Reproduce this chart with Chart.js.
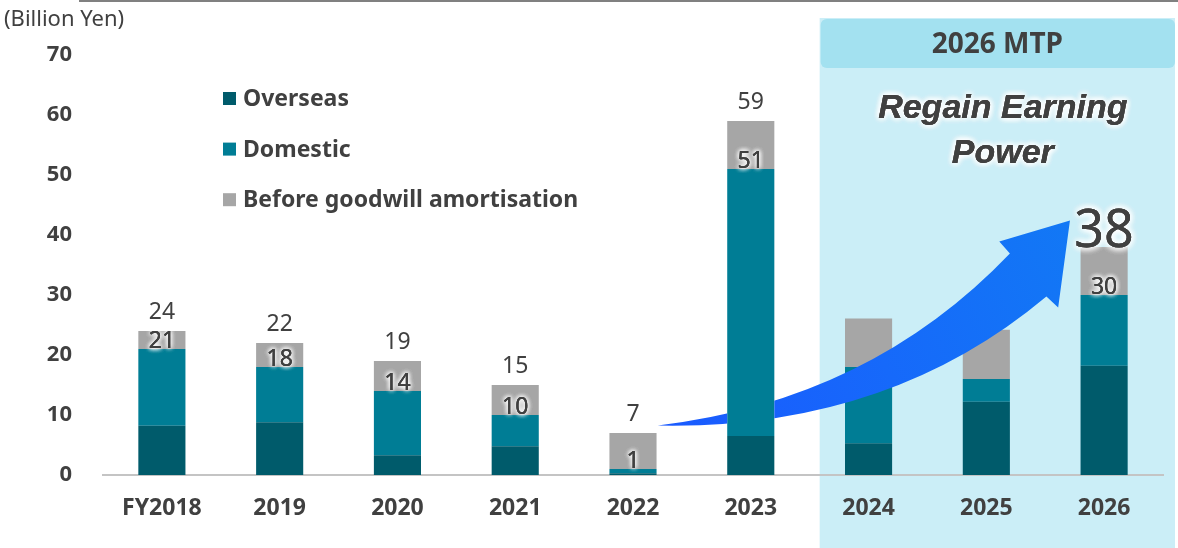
<!DOCTYPE html>
<html>
<head>
<meta charset="utf-8">
<script src="https://cdn.jsdelivr.net/npm/chart.js@4.4.0/dist/chart.umd.min.js"></script>
<style>
  html, body { margin: 0; padding: 0; background: #fff; }
  #wrap { width: 1178px; height: 548px; }
</style>
</head>
<body>
<div id="wrap"><canvas id="profit-chart" width="1178" height="548"></canvas></div>
<script>
// DATA (billion yen)
const years = ['FY2018', '2019', '2020', '2021', '2022', '2023', '2024', '2025', '2026'];
const overseas = [8.2, 8.8, 3.3, 4.8, 0.3, 6.5, 5.3, 12.2, 18.2];
const operatingProfit = [21, 18, 14, 10, 1, 51, 18, 16, 30];
const beforeGoodwill = [24, 22, 19, 15, 7, 59, 26.1, 24.2, 38];
const labelledYears = ['FY2018', '2019', '2020', '2021', '2022', '2023', '2026'];
const targetYear = '2026';
const yTicks = [0, 10, 20, 30, 40, 50, 60, 70];

const seriesNames = ['Overseas', 'Domestic', 'Before goodwill amortisation'];
const seriesColors = ['#005b6b', '#007d95', '#a6a6a6'];

const domestic = operatingProfit.map((v, i) => +(v - overseas[i]).toFixed(2));
const goodwill = beforeGoodwill.map((v, i) => +(v - operatingProfit[i]).toFixed(2));

const TEXT = '#404040';
const FONT = '"Noto Sans", sans-serif';
Chart.defaults.font.family = FONT;
Chart.defaults.color = TEXT;

// text with a soft white halo
const glowText = (ctx, text, x, y, blur) => {
  ctx.save();
  ctx.shadowColor = '#ffffff';
  ctx.shadowBlur = blur;
  for (let k = 0; k < 4; k++) ctx.fillText(text, x, y);
  ctx.restore();
  ctx.fillText(text, x, y);
};

// BACKGROUND: top rule, MTP panel, unit
const backdrop = {
  id: 'backdrop',
  beforeDraw(chart) {
    const { ctx, width, height, scales: { x } } = chart;
    ctx.save();
    ctx.fillStyle = '#808080';
    ctx.fillRect(79, 0, width - 79, 2);

    const left = (x.getPixelForValue(5) + x.getPixelForValue(6)) / 2 + 10;
    const right = width - 3;
    ctx.fillStyle = '#cbeef7';
    ctx.fillRect(left, 18, right - left, height - 18);
    ctx.fillStyle = '#a3e1f0';
    ctx.beginPath();
    ctx.roundRect(left + 1, 19, right - left - 1, 49, 6);
    ctx.fill();

    ctx.fillStyle = TEXT;
    ctx.font = `bold 28px ${FONT}`;
    ctx.textAlign = 'center';
    ctx.textBaseline = 'alphabetic';
    ctx.fillText('2026 MTP', (left + right) / 2, 53);

    ctx.font = `22px ${FONT}`;
    ctx.textAlign = 'left';
    ctx.fillText('(Billion Yen)', 4, 26);
    ctx.restore();
  }
};

// ARROW (behind the 2023 bar, over the plan years)
const growthArrow = {
  id: 'growthArrow',
  afterDatasetsDraw(chart) {
    const { ctx, width, height, scales: { x, y } } = chart;
    const p = (i, v) => [x.getPixelForValue(i), y.getPixelForValue(v)];
    const tail = p(4.21, 8.25);
    const topCtrl = p(6.01, 12.42);
    const notchTop = p(7.2, 36.9);
    const wingL = p(7.11, 38.9);
    const tip = p(7.71, 42.4);
    const wingR = p(7.61, 27.9);
    const notchBot = p(7.51, 29.75);
    const botCtrl = p(6.16, 7.5);

    const bar = chart.getDatasetMeta(2).data[5];
    const base = chart.getDatasetMeta(0).data[5].base;

    ctx.save();
    ctx.beginPath();
    ctx.rect(0, 0, width, height);
    ctx.rect(bar.x - bar.width / 2, bar.y, bar.width, base - bar.y);
    ctx.clip('evenodd');

    const grad = ctx.createLinearGradient(tail[0], tail[1], tip[0], tip[1]);
    grad.addColorStop(0, '#1a5aff');
    grad.addColorStop(1, '#1278f5');
    ctx.fillStyle = grad;
    ctx.beginPath();
    ctx.moveTo(...tail);
    ctx.quadraticCurveTo(...topCtrl, ...notchTop);
    ctx.lineTo(...wingL);
    ctx.lineTo(...tip);
    ctx.lineTo(...wingR);
    ctx.lineTo(...notchBot);
    ctx.quadraticCurveTo(...botCtrl, ...tail);
    ctx.closePath();
    ctx.fill();
    ctx.restore();
  }
};

// LABELS, LEGEND AND SLOGAN
const annotations = {
  id: 'annotations',
  afterDraw(chart) {
    const { ctx, scales: { x, y } } = chart;
    ctx.save();
    ctx.fillStyle = TEXT;
    ctx.textAlign = 'center';
    ctx.textBaseline = 'alphabetic';

    years.forEach((year, i) => {
      if (!labelledYears.includes(year)) return;
      const cx = x.getPixelForValue(i);
      ctx.font = `23px ${FONT}`;
      glowText(ctx, String(operatingProfit[i]), cx, y.getPixelForValue(operatingProfit[i]) - 1, 5);
      const top = y.getPixelForValue(beforeGoodwill[i]);
      if (year === targetYear) {
        ctx.font = `52px ${FONT}`;
        glowText(ctx, String(beforeGoodwill[i]), cx, top, 7);
      } else {
        ctx.fillText(String(beforeGoodwill[i]), cx, top - 12);
      }
    });

    // slogan
    const left = (x.getPixelForValue(5) + x.getPixelForValue(6)) / 2 + 10;
    const mid = (left + chart.width) / 2 + 4;
    ctx.font = 'italic bold 34px "Liberation Sans", Arial, sans-serif';
    glowText(ctx, 'Regain Earning', mid, 118, 6);
    glowText(ctx, 'Power', mid, 163, 6);

    // legend
    ctx.textAlign = 'left';
    ctx.font = `bold 23px ${FONT}`;
    seriesNames.forEach((name, k) => {
      const base = 106 + k * 50.6;
      ctx.fillStyle = seriesColors[k];
      ctx.fillRect(223, base - 14, 13, 13);
      ctx.fillStyle = TEXT;
      ctx.fillText(name, 243, base);
    });
    ctx.restore();
  }
};

const ctx = document.getElementById('profit-chart').getContext('2d');

new Chart(ctx, {
  type: 'bar',
  data: {
    labels: years,
    datasets: [
      { label: seriesNames[0], data: overseas, backgroundColor: seriesColors[0] },
      { label: seriesNames[1], data: domestic, backgroundColor: seriesColors[1] },
      { label: seriesNames[2], data: goodwill, backgroundColor: seriesColors[2] }
    ]
  },
  options: {
    responsive: false,
    animation: false,
    devicePixelRatio: 1,
    layout: { padding: { top: 55, right: 15, left: 0, bottom: 0 } },
    datasets: { bar: { barPercentage: 0.4, categoryPercentage: 1 } },
    plugins: {
      legend: { display: false },
      tooltip: { enabled: false }
    },
    scales: {
      x: {
        stacked: true,
        grid: { display: false, drawTicks: false },
        border: { color: '#c4c4c4', width: 2 },
        ticks: { color: TEXT, font: { size: 23, weight: 'bold' }, padding: 20 },
        afterFit: (scale) => { scale.height = 73; }
      },
      y: {
        stacked: true,
        min: 0,
        max: 70,
        grid: { display: false, drawTicks: false },
        border: { display: false },
        afterBuildTicks: (scale) => { scale.ticks = yTicks.map(v => ({ value: v })); },
        ticks: { color: TEXT, font: { size: 22, weight: 'bold' }, padding: 31 },
        afterFit: (scale) => { scale.width = 103; }
      }
    }
  },
  plugins: [backdrop, growthArrow, annotations]
});
</script>
</body>
</html>
